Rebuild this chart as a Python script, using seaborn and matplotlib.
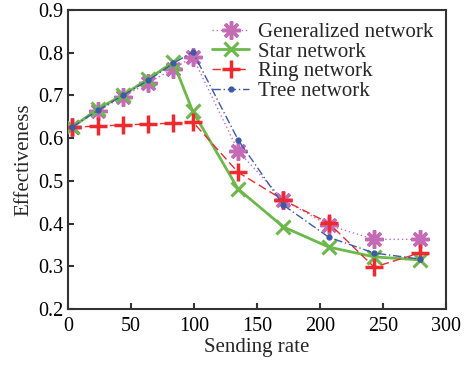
import numpy as np
import pandas as pd
import seaborn as sns
import matplotlib.pyplot as plt

sns.set_theme(style="ticks")
plt.rcParams['font.family'] = ['Liberation Serif', 'DejaVu Serif']

rate = [3.5, 23.5, 43.5, 63.5, 83.5, 99, 135, 171, 207, 243, 279]
generalized = [0.626, 0.663, 0.697, 0.729, 0.762, 0.790, 0.570, 0.455, 0.396, 0.363, 0.363]
star = [0.626, 0.668, 0.701, 0.738, 0.778, 0.663, 0.481, 0.392, 0.345, 0.322, 0.315]
ring = [0.626, 0.628, 0.631, 0.633, 0.635, 0.638, 0.520, 0.455, 0.401, 0.298, 0.331]
tree = [0.626, 0.665, 0.700, 0.735, 0.775, 0.802, 0.596, 0.443, 0.368, 0.331, 0.317]
names = ['Generalized network', 'Star network', 'Ring network', 'Tree network']

df = pd.DataFrame({
    'rate': rate * 4,
    'value': generalized + star + ring + tree,
    'series': np.repeat(names, len(rate)),
})

colors = ['#c46bb6', '#6cb84a', '#ee2a2f', '#3c5aa6']
markers = [(8, 2, 0), 'x', '+', 'o']
lstyles = [(0, (1, 2)), '-', (0, (6, 3)), (0, (6, 2, 1, 2))]
msizes = [13, 10, 13, 3.5]
mews = [2.5, 2.2, 2.5, 1]
lws = [1, 2, 1, 1]

fig = plt.figure(figsize=(4.66, 3.65), dpi=100)
ax = fig.add_axes([68 / 466, 1 - 309 / 365, 378 / 466, 299 / 365])

for i, name in enumerate(names):
    sub = df[df['series'] == name]
    sns.lineplot(data=sub, x='rate', y='value', ax=ax, color=colors[i],
                 marker=markers[i], markersize=msizes[i], markeredgewidth=mews[i],
                 markeredgecolor=colors[i], linewidth=lws[i], linestyle=lstyles[i],
                 label=name, zorder=3 + (1 if i == 3 else 0))

ax.set_xlim(0, 300)
ax.set_ylim(0.2, 0.9)
ax.set_xticks(range(0, 301, 50))
ax.set_yticks(np.arange(0.2, 0.91, 0.1))
ax.set_yticklabels([f'{v:.1f}' for v in np.arange(0.2, 0.91, 0.1)])
ax.tick_params(direction='in', labelsize=14.5, colors='#333333', labelcolor='black',
               length=4, width=1.5)
ax.tick_params(axis='x', pad=6)
ax.tick_params(axis='y', pad=3)
for s in ax.spines.values():
    s.set_color('#333333')
    s.set_linewidth(1.5)
ax.set_xlabel('Sending rate', fontsize=15, labelpad=1)
ax.set_ylabel('Effectiveness', fontsize=15, labelpad=4)

ax.legend(loc='upper right', frameon=False, fontsize=15, handlelength=1.75,
          labelspacing=0.0, borderaxespad=0.2, handletextpad=0.45,
          bbox_to_anchor=(1.0, 1.0))

fig.savefig('out.png', dpi=100)
